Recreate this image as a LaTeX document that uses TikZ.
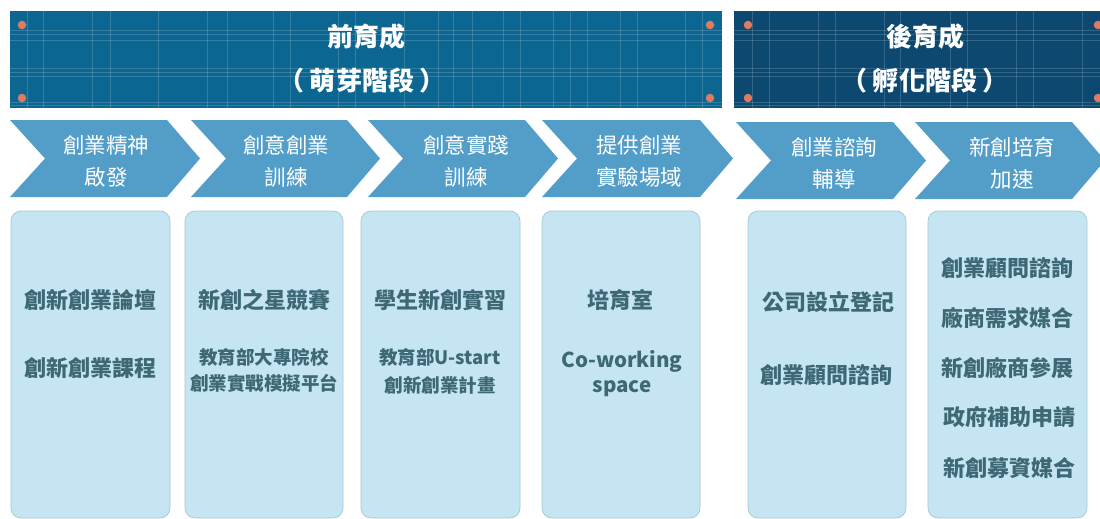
\documentclass[tikz,border=0pt]{standalone}
\usepackage{fontspec}
\newfontfamily\cjk{Noto Sans CJK TC}
\definecolor{hdrA}{RGB}{11,103,146}
\definecolor{hdrB}{RGB}{12,72,111}
\definecolor{chev}{RGB}{82,158,200}
\definecolor{boxfill}{RGB}{196,229,241}
\definecolor{boxline}{RGB}{165,198,210}
\definecolor{boxtext}{RGB}{62,104,118}
\definecolor{dotc}{RGB}{226,122,98}
\begin{document}
\begin{tikzpicture}[x=1pt,y=-1pt,
  title/.style={text=white,font=\cjk\bfseries\fontsize{26}{30}\selectfont,inner sep=0pt},
  chevtext/.style={text=white,font=\cjk\fontsize{21.5}{32}\selectfont,align=center,inner sep=0pt},
  bigt/.style={text=boxtext,font=\cjk\bfseries\fontsize{22}{26}\selectfont,inner sep=0pt},
  smallt/.style={text=boxtext,font=\cjk\bfseries\fontsize{18.5}{26}\selectfont,align=center,inner sep=0pt},
  latint/.style={text=boxtext,font=\cjk\bfseries\fontsize{20.5}{26}\selectfont,inner sep=0pt},
  grid line/.style={white,opacity=0.16,line width=0.8pt},
  dot/.style={circle,fill=dotc,inner sep=0pt,minimum size=8.5pt},
  panel/.style={fill=boxfill,draw=boxline,line width=0.7pt,rounded corners=10pt}
]
\useasboundingbox (0,0) rectangle (1100,519);
\clip (0,0) rectangle (1100,519);

% ---------- headers ----------
\fill[hdrA] (10,11) rectangle (722,108);
\fill[hdrB] (734,11) rectangle (1112,108);
\begin{scope}
  \clip (10,11) rectangle (722,108) (734,11) rectangle (1112,108);
  \foreach \y in {30,34,40,68,72,76,102,105}
    \draw[grid line] (0,\y) -- (1100,\y);
  \foreach \x in {27,43,92,110,158,207,227,273,290,338,355,404,438,453,472,503,520,553,570,587,620,637,685,702,
                  752,769,818,835,884,900,950,967,1016,1033,1082}
    \draw[grid line] (\x,0) -- (\x,120);
\end{scope}
\node[dot] (d1) at (22,25) {};
\node[dot] (d2) at (22,98) {};
\node[dot] (d3) at (710,25) {};
\node[dot] (d4) at (710,98) {};
\node[dot] (d5) at (748,25) {};
\node[dot] (d6) at (748,98) {};
\node[dot] (d7) at (1098,25) {};
\node[dot] (d8) at (1098,98) {};

\node[title] (t1a) at (366,37) {前育成};
\node[title] (t1b) at (362,81) {（ 萌芽階段 ）};
\node[title] (t2a) at (925,37) {後育成};
\node[title] (t2b) at (925,81) {（ 孵化階段 ）};

% ---------- chevrons ----------
\newcommand{\chevron}[4]{% left, tip, top, bottom
  \fill[chev] (#1,#3) -- (#2-33,#3) -- (#2,{(#3+#4)/2}) -- (#2-33,#4) -- (#1,#4) -- (#1+35,{(#3+#4)/2}) -- cycle;}
\chevron{10}{200}{120}{197}
\chevron{191}{380}{120}{197}
\chevron{368}{558}{120}{197}
\chevron{542}{733}{120}{197}
\chevron{736}{926}{122}{199}
\chevron{915}{1105}{122}{199}

\node[chevtext] (c1) at (106,161) {創業精神\\啟發};
\node[chevtext] (c2) at (286,161) {創意創業\\訓練};
\node[chevtext] (c3) at (466,161) {創意實踐\\訓練};
\node[chevtext] (c4) at (639,161) {提供創業\\實驗場域};
\node[chevtext] (c5) at (834,163) {創業諮詢\\輔導};
\node[chevtext] (c6) at (1012,163) {新創培育\\加速};

% ---------- panels ----------
\path[panel] (11,211) rectangle (170,518);
\path[panel] (185,211) rectangle (343,518);
\path[panel] (361,211) rectangle (520,518);
\path[panel] (542,211) rectangle (700,518);
\path[panel] (748,211) rectangle (906,518);
\path[panel] (928,211) rectangle (1087,518);

\node[bigt] (b1a) at (90.5,300) {創新創業論壇};
\node[bigt] (b1b) at (90.5,368) {創新創業課程};

\node[bigt] (b2a) at (264,300) {新創之星競賽};
\node[smallt] (b2b) at (264,357) {教育部大專院校};
\node[smallt] (b2c) at (264,383) {創業實戰模擬平台};

\node[bigt] (b3a) at (440,300) {學生新創實習};
\node[smallt] (b3b) at (440,357) {教育部U-start};
\node[smallt] (b3c) at (440,385) {創新創業計畫};

\node[bigt] (b4a) at (620,300) {培育室};
\node[latint] (b4b) at (622,361) {Co-working};
\node[latint] (b4c) at (622,389) {space};

\node[bigt] (b5a) at (828,302) {公司設立登記};
\node[bigt] (b5b) at (826,375) {創業顧問諮詢};

\node[bigt] (b6a) at (1007,268) {創業顧問諮詢};
\node[bigt] (b6b) at (1007,318) {廠商需求媒合};
\node[bigt] (b6c) at (1007,368) {新創廠商參展};
\node[bigt] (b6d) at (1009,417) {政府補助申請};
\node[bigt] (b6e) at (1009,468) {新創募資媒合};
\end{tikzpicture}
\end{document}
